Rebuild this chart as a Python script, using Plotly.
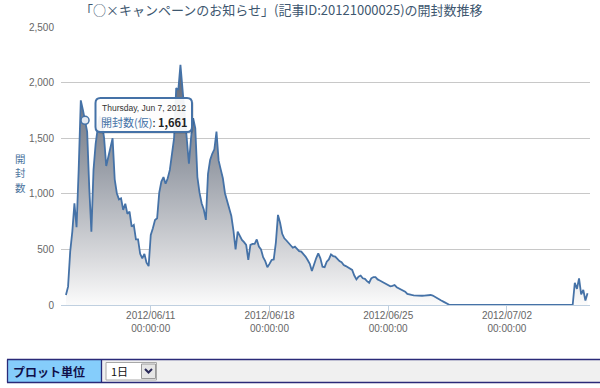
import plotly.graph_objects as go
import pandas as pd

# ---------------- data ----------------
TITLE = "「○×キャンペーンのお知らせ」(記事ID:20121000025)の開封数推移"
Y_TITLE = "開封数"
SERIES_NAME = "開封数(仮)"
START = "2012-06-06 00:00"          # first sample, one sample every 3 hours
STEP = "3h"

d0606 = [90, 165, 480, 660, 915, 700, 1215, 1840]
d0607 = [1755, 1661, 1560, 1050, 660, 1215, 1450, 1590]
d0608 = [1695, 1630, 1500, 1250, 1335, 1400, 1500, 1130]
d0609 = [1005, 950, 960, 855, 910, 820, 840, 705]
d0610 = [720, 590, 590, 460, 420, 460, 380, 350]
d0611 = [630, 690, 765, 780, 1010, 1110, 1150, 1090]
d0612 = [1140, 1215, 1380, 1500, 1950, 1935, 2160, 1940]
d0613 = [1770, 1540, 1270, 1500, 1680, 1590, 1150, 1010]
d0614 = [915, 860, 765, 1180, 1305, 1360, 1400, 1560]
d0615 = [1300, 1220, 1140, 1005, 930, 870, 800, 670]
d0616 = [500, 660, 615, 585, 565, 540, 405, 540]
d0617 = [550, 550, 590, 525, 500, 430, 395, 340]
d0618 = [370, 405, 410, 560, 810, 740, 640, 600]
d0619 = [580, 555, 535, 515, 525, 505, 485, 480]
d0620 = [460, 435, 405, 370, 305, 370, 420, 465]
d0621 = [420, 345, 340, 390, 410, 455, 440, 435]
d0622 = [415, 395, 385, 360, 350, 340, 325, 315]
d0623 = [265, 230, 255, 265, 240, 235, 215, 200]
d0624 = [240, 250, 250, 230, 220, 210, 200, 190]
d0625 = [180, 168, 172, 180, 160, 150, 140, 130]
d0626 = [120, 100, 92, 90, 86, 84, 82, 81]
d0627 = [83, 84, 86, 88, 90, 85, 72, 58]
d0628 = [48, 40, 30, 20, 10, 0, 0, 0]
d0629 = [0, 0, 0, 0, 0, 0, 0, 0]
d0630 = [0, 0, 0, 0, 0, 0, 0, 0]
d0701 = [0, 0, 0, 0, 0, 0, 0, 0]
d0702 = [0, 0, 0, 0, 0, 0, 0, 0]
d0703 = [0, 0, 0, 0, 0, 0, 0, 0]
d0704 = [0, 0, 0, 0, 0, 0, 0, 0]
d0705 = [0, 0, 0, 0, 0, 0, 0, 0]
d0706 = [200, 145, 240, 95, 135, 40, 105]

Y_TICKS = [0, 500, 1000, 1500, 2000, 2500]
X_TICKS = ["2012-06-11", "2012-06-18", "2012-06-25", "2012-07-02"]
X_RANGE = ["2012-06-05 17:00", "2012-07-06 21:30"]

TOOLTIP_INDEX = 9                    # Thursday, Jun 7, 2012 (03:00)
TOOLTIP_DATE = "Thursday, Jun 7, 2012"

CONTROL_LABEL = "プロット単位"
CONTROL_VALUE = "1日"

# ---------------- build ----------------
opens = (d0606 + d0607 + d0608 + d0609 + d0610 + d0611 + d0612 + d0613 + d0614 +
         d0615 + d0616 + d0617 + d0618 + d0619 + d0620 + d0621 + d0622 + d0623 +
         d0624 + d0625 + d0626 + d0627 + d0628 + d0629 + d0630 + d0701 + d0702 +
         d0703 + d0704 + d0705 + d0706)
times = pd.date_range(START, periods=len(opens), freq=STEP)

W, H = 600, 388
PL, PR, PT, PB = 61, 590, 27, 305          # plot area in screen pixels
ML, MR, MT, MB = PL, W - PR, PT, H - PB
PW, PH = PR - PL, PB - PT


def X(px):
    return (px - PL) / PW


def Y(py):
    return (PB - py) / PH


LINE = "#4572A7"
fig = go.Figure()
fig.add_trace(go.Scatter(
    x=times, y=opens, mode="lines", name=SERIES_NAME,
    line=dict(color=LINE, width=1.8),
    fill="tozeroy",
    fillgradient=dict(type="vertical", start=0, stop=2160,
                      colorscale=[[0, "#fbfbfb"], [0.2, "#d8d9dc"],
                                  [0.55, "#9da2ab"], [1, "#5c6474"]]),
    hoverinfo="skip", showlegend=False,
))
fig.add_trace(go.Scatter(
    x=[times[TOOLTIP_INDEX]], y=[opens[TOOLTIP_INDEX]], mode="markers",
    marker=dict(size=8, color="#e4e9f1", line=dict(color=LINE, width=1.5)),
    hoverinfo="skip", showlegend=False,
))

shapes = []
ann = []


def rounded(x0, y0, x1, y1, r):
    return (f"M {X(x0 + r)},{Y(y0)} L {X(x1 - r)},{Y(y0)} "
            f"Q {X(x1)},{Y(y0)} {X(x1)},{Y(y0 + r)} L {X(x1)},{Y(y1 - r)} "
            f"Q {X(x1)},{Y(y1)} {X(x1 - r)},{Y(y1)} L {X(x0 + r)},{Y(y1)} "
            f"Q {X(x0)},{Y(y1)} {X(x0)},{Y(y1 - r)} L {X(x0)},{Y(y0 + r)} "
            f"Q {X(x0)},{Y(y0)} {X(x0 + r)},{Y(y0)} Z")


# tooltip
shapes.append(dict(type="path", xref="paper", yref="paper",
                   path=rounded(97, 100, 194, 134, 5),
                   fillcolor="rgba(0,0,0,0.10)", line=dict(width=0)))
shapes.append(dict(type="path", xref="paper", yref="paper",
                   path=rounded(95.5, 98, 192, 132, 5),
                   fillcolor="rgba(255,255,255,0.92)",
                   line=dict(color=LINE, width=2)))
ann.append(dict(xref="paper", yref="paper", x=X(100), y=Y(108.5),
                xanchor="left", yanchor="middle", showarrow=False,
                text=TOOLTIP_DATE,
                font=dict(family="Liberation Sans, Arial", size=8.5, color="#333")))
ann.append(dict(xref="paper", yref="paper", x=X(99), y=Y(121.5),
                xanchor="left", yanchor="middle", showarrow=False,
                text=(f"<span style='color:{LINE}'>{SERIES_NAME}</span>: "
                      f"<b>{opens[TOOLTIP_INDEX]:,}</b>"),
                font=dict(family="Noto Sans CJK JP", size=11, color="#222")))

# title and y-axis title (one character per line)
ann.append(dict(xref="paper", yref="paper", x=X(281), y=Y(10),
                xanchor="center", yanchor="middle", showarrow=False,
                text=TITLE,
                font=dict(family="Noto Sans CJK JP", size=13, color="#3E576F")))
for i, ch in enumerate(Y_TITLE):
    ann.append(dict(xref="paper", yref="paper", x=X(20), y=Y(158 + 14.5 * i),
                    xanchor="center", yanchor="middle", showarrow=False,
                    text=ch,
                    font=dict(family="Noto Sans CJK JP", size=10.5, color="#4D759E")))

# bottom control bar
NAVY = "#2a2a78"
shapes += [
    dict(type="rect", xref="paper", yref="paper", x0=X(7.5), x1=X(600),
         y0=Y(382.5), y1=Y(359.5), fillcolor="#f0f0f0", line=dict(width=0)),
    dict(type="rect", xref="paper", yref="paper", x0=X(7.5), x1=X(101.5),
         y0=Y(382.5), y1=Y(359.5), fillcolor="#85cdfb", line=dict(width=0)),
    dict(type="line", xref="paper", yref="paper", x0=X(7), x1=X(600),
         y0=Y(359.5), y1=Y(359.5), line=dict(color=NAVY, width=1.3)),
    dict(type="line", xref="paper", yref="paper", x0=X(7), x1=X(600),
         y0=Y(382.5), y1=Y(382.5), line=dict(color=NAVY, width=1.3)),
    dict(type="line", xref="paper", yref="paper", x0=X(7.5), x1=X(7.5),
         y0=Y(359.5), y1=Y(382.5), line=dict(color=NAVY, width=1.3)),
    dict(type="line", xref="paper", yref="paper", x0=X(101.5), x1=X(101.5),
         y0=Y(359.5), y1=Y(382.5), line=dict(color=NAVY, width=1.3)),
    dict(type="rect", xref="paper", yref="paper", x0=X(106), x1=X(156.5),
         y0=Y(380), y1=Y(362.5), fillcolor="white",
         line=dict(color="#a8a8a8", width=1)),
    dict(type="rect", xref="paper", yref="paper", x0=X(141.5), x1=X(155.5),
         y0=Y(378.5), y1=Y(364), fillcolor="#e6e6e6",
         line=dict(color="#9a9a9a", width=1)),
    dict(type="path", xref="paper", yref="paper",
         path=f"M {X(145)},{Y(369)} L {X(148.5)},{Y(372.5)} L {X(152)},{Y(369)}",
         line=dict(color="#2b2b5a", width=2)),
]
ann.append(dict(xref="paper", yref="paper", x=X(11), y=Y(371),
                xanchor="left", yanchor="middle", showarrow=False,
                text=f"<b>{CONTROL_LABEL}</b>",
                font=dict(family="Noto Sans CJK JP", size=12, color="#10104a")))
ann.append(dict(xref="paper", yref="paper", x=X(109), y=Y(371),
                xanchor="left", yanchor="middle", showarrow=False,
                text=CONTROL_VALUE,
                font=dict(family="Noto Sans CJK JP", size=11, color="#111")))

fig.update_layout(
    width=W, height=H, autosize=False,
    margin=dict(l=ML, r=MR, t=MT, b=MB, pad=0),
    paper_bgcolor="white", plot_bgcolor="white",
    shapes=shapes, annotations=ann,
    xaxis=dict(type="date", range=X_RANGE, tickvals=X_TICKS,
               tickformat="%Y/%m/%d<br>%H:%M:%S",
               showgrid=False, zeroline=False,
               showline=True, linecolor="#C0D0E0", linewidth=1,
               ticks="outside", ticklen=5, tickcolor="#C0D0E0",
               ticklabelstandoff=-4,
               tickfont=dict(family="Liberation Sans, Arial", size=10, color="#666")),
    yaxis=dict(range=[0, 2500], tickvals=Y_TICKS, tickformat=",",
               showgrid=True, gridcolor="#C8C8C8", gridwidth=1,
               zeroline=False, showline=False, ticks="",
               ticklabelstandoff=6,
               tickfont=dict(family="Liberation Sans, Arial", size=10, color="#666")),
)

# remove the browser's default 8px body margin so the figure sits at (0, 0)
fig.write_html("out.html", config={"displayModeBar": False},
               post_script="document.body.style.margin='0px';")
